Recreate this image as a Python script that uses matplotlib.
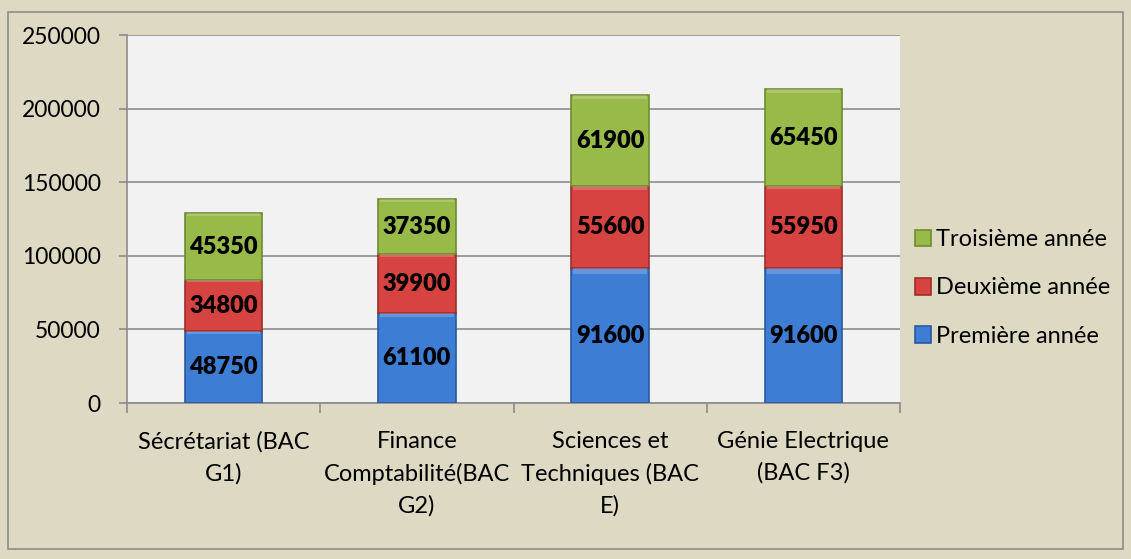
import matplotlib.pyplot as plt
import numpy as np
from matplotlib.patches import Rectangle

# données
filieres = ["Sécrétariat (BAC\nG1)", "Finance\nComptabilité(BAC\nG2)",
            "Sciences et\nTechniques (BAC\nE)", "Génie Electrique\n(BAC F3)"]
premiere = [48750, 61100, 91600, 91600]
deuxieme = [34800, 39900, 55600, 55950]
troisieme = [45350, 37350, 61900, 65450]
series = ["Première année", "Deuxième année", "Troisième année"]
couleurs = ["#3D7DD4", "#D64341", "#98BA48"]
bords = ["#2A5A9E", "#9E2E2C", "#6E8A30"]

plt.rcParams['font.family'] = ['Lato', 'DejaVu Sans']

fig = plt.figure(figsize=(11.31, 5.59), dpi=100)
fig.patch.set_facecolor("#DDD9C3")
fig.patches.append(Rectangle((8 / 1131, 10 / 559), 1115 / 1131, 537 / 559, transform=fig.transFigure,
                             fill=False, edgecolor="#8C8C8C", linewidth=1.2))

ax = fig.add_axes([127 / 1131, 1 - 403 / 559, 773 / 1131, 368 / 559])
ax.set_facecolor("#F2F2F2")

x = np.arange(len(filieres))
bas = np.zeros(len(filieres))
handles = []
for vals, nom, c, b in zip([premiere, deuxieme, troisieme], series, couleurs, bords):
    bars = ax.bar(x, vals, width=0.4, bottom=bas, color=c, edgecolor=b, linewidth=1.2, label=nom, zorder=3)
    # petit effet de biseau en haut
    ax.bar(x, np.array(vals) * 0.04, width=0.38, bottom=bas + np.array(vals) * 0.96,
           color="white", alpha=0.2, linewidth=0, zorder=4)
    for xi, v, y0 in zip(x, vals, bas):
        ax.text(xi, y0 + v / 2, str(v), ha="center", va="center", fontsize=17,
                fontweight="heavy", color="black", zorder=5)
    handles.append(bars)
    bas = bas + np.array(vals)

ax.set_xlim(-0.5, 3.5)
ax.set_ylim(0, 250000)
ax.set_yticks(range(0, 250001, 50000))
ax.set_yticklabels([str(v) for v in range(0, 250001, 50000)], fontsize=16.5)
ax.yaxis.grid(True, color="#8C8C8C", linewidth=1.2, zorder=0)
ax.set_axisbelow(True)
ax.tick_params(axis="y", length=6, color="#8C8C8C", width=1.2, pad=13)

ax.set_xticks(x)
ax.set_xticklabels(filieres, fontsize=17, linespacing=1.6)
ax.tick_params(axis="x", length=0, pad=20)
ax.set_xticks(np.arange(-0.5, 4, 1), minor=True)
ax.tick_params(axis="x", which="minor", length=7, color="#8C8C8C", width=1.2)

for s in ["top", "right"]:
    ax.spines[s].set_visible(False)
ax.spines["left"].set_color("#8C8C8C")
ax.spines["bottom"].set_color("#8C8C8C")
ax.spines["left"].set_linewidth(1.2)
ax.spines["bottom"].set_linewidth(1.2)

leg = fig.legend(handles[::-1], series[::-1], loc="center left",
                 bbox_to_anchor=(903 / 1131, 1 - 288 / 559), frameon=False,
                 fontsize=17, handlelength=0.7, handleheight=0.7, handletextpad=0.2,
                 labelspacing=1.15, borderpad=0)

plt.savefig("out.png", dpi=100, facecolor=fig.get_facecolor())
